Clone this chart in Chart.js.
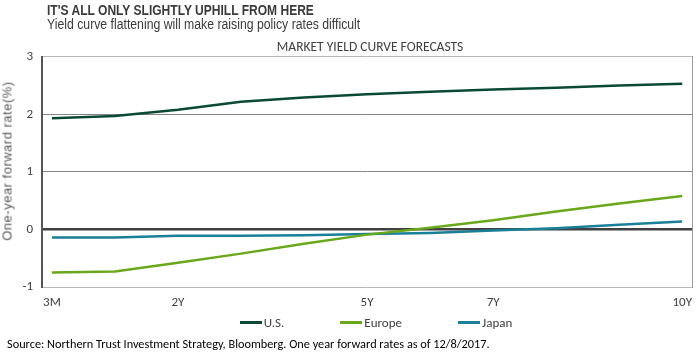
<!DOCTYPE html>
<html><head><meta charset="utf-8">
<script src="https://cdn.jsdelivr.net/npm/chart.js@4/dist/chart.umd.min.js"></script>
<style>
html,body{margin:0;padding:0;background:#fff;}
#wrap{position:relative;width:700px;height:357px;overflow:hidden;background:#fff;}
#c{position:absolute;left:0;top:0;}
.t{position:absolute;white-space:nowrap;transform-origin:0 0;}
#legend{position:absolute;left:48px;width:656px;top:314px;height:16px;display:flex;justify-content:center;align-items:center;gap:56px;font:13px Carlito,'Liberation Sans',sans-serif;color:#404040;}
#legend .it{display:flex;align-items:center;}
#legend .sw{width:22px;height:3px;margin-right:2px;}
</style></head><body>
<div id="wrap">
<canvas id="c" width="700" height="357"></canvas>
<div class="t" style="left:47px;top:2px;font:bold 14px 'Liberation Sans',Arial,sans-serif;color:#3a3a3a;transform:scaleX(0.86);">IT'S ALL ONLY SLIGHTLY UPHILL FROM HERE</div>
<div class="t" style="left:47px;top:16px;font:14px 'Liberation Sans',Arial,sans-serif;color:#3a3a3a;transform:scaleX(0.875);">Yield curve flattening will make raising policy rates difficult</div>
<div class="t" style="left:7px;top:161px;transform-origin:50% 50%;transform:translate(-50%,-50%) rotate(-90deg);font:13px 'Liberation Sans',Arial,sans-serif;letter-spacing:0.5px;color:#595959;">One-year forward rate(%)</div>
<div id="legend"></div>
<div class="t" style="left:7px;top:336px;font:12.3px Carlito,'Liberation Sans',sans-serif;color:#000;">Source: Northern Trust Investment Strategy, Bloomberg. One year forward rates as of 12/8/2017.</div>
</div>
<script>
const categories = ['3M','1Y','2Y','3Y','4Y','5Y','6Y','7Y','8Y','9Y','10Y'];
const tickLabels = ['3M','2Y','5Y','7Y','10Y'];
const usValues     = [1.93, 1.97, 2.08, 2.22, 2.29, 2.35, 2.39, 2.43, 2.46, 2.50, 2.53];
const europeValues = [-0.75, -0.73, -0.58, -0.42, -0.25, -0.09, 0.03, 0.16, 0.31, 0.45, 0.58];
const japanValues  = [-0.14, -0.14, -0.11, -0.11, -0.10, -0.08, -0.06, -0.02, 0.02, 0.08, 0.14];
const seriesNames = ['U.S.', 'Europe', 'Japan'];
const yTicks = [-1, 0, 1, 2, 3];

const colors = ['#0a4a35', '#68a81a', '#1a7f98'];
const toPts = vals => vals.map((v, i) => ({x: i, y: v}));
const narrow = "Carlito,'Liberation Sans',sans-serif";

const chart = new Chart(document.getElementById('c'), {
  type: 'line',
  data: {
    datasets: [usValues, europeValues, japanValues].map((vals, k) => ({
      label: seriesNames[k],
      data: toPts(vals),
      borderColor: colors[k],
      backgroundColor: colors[k],
      borderWidth: 2.5,
      pointRadius: 0,
      tension: 0,
      fill: false
    }))
  },
  options: {
    responsive: false,
    animation: false,
    layout: {padding: {left: 42, right: 2, top: 40.3, bottom: 38.4}},
    plugins: {
      tooltip: {enabled: false},
      legend: {display: false},
      title: {
        display: true,
        text: 'MARKET YIELD CURVE FORECASTS',
        color: '#404040',
        font: {family: narrow, size: 13.5, weight: 'normal', lineHeight: 1.1},
        padding: {top: 0, bottom: 1.6}
      }
    },
    scales: {
      x: {
        type: 'linear',
        min: -0.157,
        max: 10.157,
        grid: {display: false, drawTicks: false},
        border: {display: false},
        afterBuildTicks: s => { s.ticks = tickLabels.map(l => ({value: categories.indexOf(l)})); },
        ticks: {
          autoSkip: false, maxRotation: 0, padding: 8,
          color: '#404040',
          font: {family: narrow, size: 13},
          callback: v => categories[v]
        }
      },
      y: {
        min: -1, max: 3,
        afterBuildTicks: s => { s.ticks = yTicks.map(v => ({value: v})); },
        afterFit: s => { s.width = 0; },
        grid: {
          drawTicks: false,
          color: c => c.tick.value === 0 ? '#404040' : ((c.tick.value === -1 || c.tick.value === 3) ? '#b8b8b8' : '#858585'),
          lineWidth: c => c.tick.value === 0 ? 2.5 : 1
        },
        border: {display: true, color: '#555555', width: 2},
        ticks: {mirror: true, crossAlign: 'far', padding: -19.5, color: '#404040', font: {family: narrow, size: 13}}
      },
      y2: {
        position: 'right',
        min: -1, max: 3,
        afterFit: s => { s.width = 0; },
        grid: {display: false, drawTicks: false},
        ticks: {display: false},
        border: {display: true, color: '#9a9a9a', width: 1}
      }
    }
  }
});

// HTML legend built from the chart's datasets
const legendEl = document.getElementById('legend');
chart.data.datasets.forEach(ds => {
  const it = document.createElement('div');
  it.className = 'it';
  const sw = document.createElement('span');
  sw.className = 'sw';
  sw.style.background = ds.borderColor;
  const tx = document.createElement('span');
  tx.textContent = ds.label;
  it.appendChild(sw);
  it.appendChild(tx);
  legendEl.appendChild(it);
});
</script>
</body></html>
